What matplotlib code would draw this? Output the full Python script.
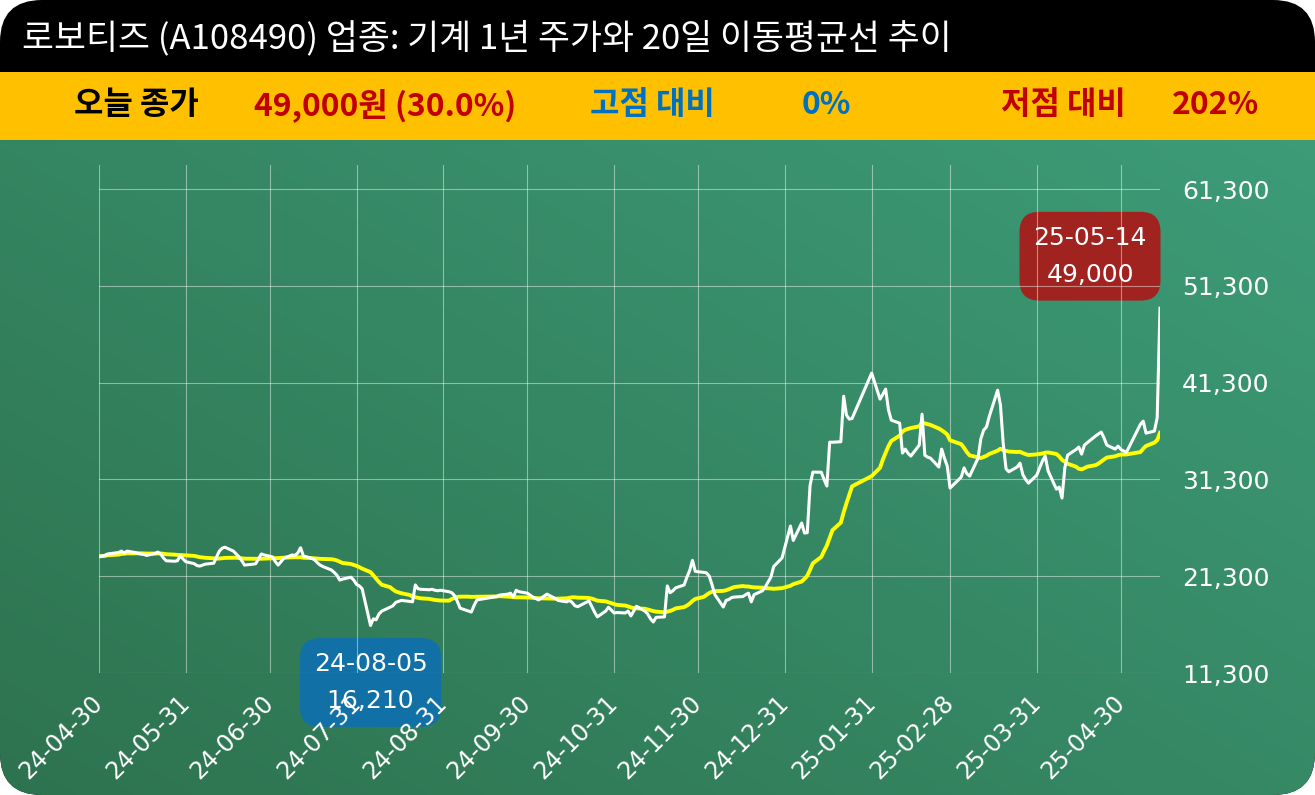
import numpy as np
import pandas as pd
import matplotlib.pyplot as plt
from matplotlib.patches import FancyBboxPatch, Rectangle

plt.rcParams['font.family'] = ['Noto Sans CJK KR', 'DejaVu Sans']

# KRX market holidays in the period
krx_holidays = [
    '2024-05-01', '2024-05-06', '2024-05-15', '2024-06-06', '2024-08-15',
    '2024-09-16', '2024-09-17', '2024-09-18', '2024-10-01', '2024-10-03', '2024-10-09',
    '2024-12-25', '2024-12-31', '2025-01-01', '2025-01-27', '2025-01-28', '2025-01-29',
    '2025-01-30', '2025-03-03', '2025-05-01', '2025-05-05', '2025-05-06',
]

# daily close, 2024-04-30 .. 2025-05-14 (trading days)
close = [
    23350,
    # 2024-05
    23450, 23600, 23750, 23900, 23700, 23900, 23750, 23650, 23550, 23450, 23650, 23800,
    23600, 23200, 22900, 22850, 22900, 23400, 23100, 22800,
    # 2024-06
    22600, 22400, 22350, 22550, 22650, 23300, 23900, 24200, 24300, 23900, 23600, 23300,
    22900, 22450, 22550, 22600, 23100, 23600, 23500,
    # 2024-07
    23300, 22800, 22450, 22800, 23150, 23500, 23450, 23700, 24250, 23400, 23150, 23000,
    22700, 22450, 22300, 21950, 21700, 21400, 20900, 21000, 21200, 20900, 20450,
    # 2024-08
    20300, 20000, 16210, 16900, 16800, 17400, 17700, 18100, 18250, 18600, 18800, 18700,
    18650, 20400, 20000, 19950, 19900, 19950, 19850, 19800, 19850,
    # 2024-09
    19700, 19600, 19300, 18700, 18000, 17700, 17600, 18300, 18850, 18900, 19200, 19350,
    19450, 19550, 19150, 19850, 19700, 19550,
    # 2024-10
    19150, 18850, 19450, 19300, 19000, 18800, 18650, 18800, 18600, 18250, 18150, 18600,
    18750, 18200, 17600, 17100, 17700, 18100, 17800, 17500,
    # 2024-11
    17550, 17500, 17700, 17200, 17700, 18200, 17700, 17400, 16900, 16570, 17050, 17100,
    20300, 19600, 19800, 20100, 20400, 21200, 21900, 22950, 21800,
    # 2024-12
    21700, 21650, 21300, 20400, 19400, 18120, 18800, 18900, 19100, 19150, 19200, 19400,
    19550, 18650, 19400, 19800, 20200, 21200, 22300, 23200,
    # 2025-01
    26490, 25000, 26800, 25760, 25800, 30700, 32060, 32050, 31300, 30620, 35160, 35150,
    35200, 39910, 37950, 37540, 37600, 42290,
    # 2025-02
    39600, 40100, 40640, 38500, 37430, 37120, 34030, 34440, 34000, 33720, 34850, 38050,
    33800, 33610, 33510, 32580, 34440, 33500, 32680, 30410,
    # 2025-03
    31550, 32500, 31900, 31650, 33500, 35500, 36400, 36710, 37800, 40530, 39000, 35000,
    32400, 32100, 32600, 32990, 31800, 31300, 30920, 31750,
    # 2025-04
    32500, 33200, 33720, 32200, 30300, 30510, 29380, 32500, 33820, 34400, 34650, 33920,
    34850, 35100, 35800, 36000, 36200, 35600, 34850, 34440, 34750, 34400,
    # 2025-05
    34100, 37000, 37330, 36090, 36300, 37700, 49000,
]
dates = pd.bdate_range('2024-04-30', periods=len(close), freq='C', holidays=krx_holidays)
ma20 = pd.Series(close).rolling(20, min_periods=1).mean()

tick_dates = pd.to_datetime([
    '2024-04-30', '2024-05-31', '2024-06-30', '2024-07-31', '2024-08-31', '2024-09-30',
    '2024-10-31', '2024-11-30', '2024-12-31', '2025-01-31', '2025-02-28', '2025-03-31',
    '2025-04-30',
])
y_ticks = [11300, 21300, 31300, 41300, 51300, 61300]

title = '로보티즈 (A108490) 업종: 기계 1년 주가와 20일 이동평균선 추이'

last = close[-1]
chg = (close[-1] / close[-2] - 1) * 100
from_high = (last / max(close) - 1) * 100
from_low = (last / min(close) - 1) * 100

W, H = 1315, 795
fig = plt.figure(figsize=(W / 100, H / 100), dpi=100)
fig.patch.set_facecolor('white')

# background: rounded card, header bars, green gradient
bg = fig.add_axes([0, 0, 1, 1], zorder=0)
bg.set_xlim(0, W)
bg.set_ylim(H, 0)
bg.axis('off')

frame = FancyBboxPatch((0, 0), W, H, boxstyle='round,pad=0,rounding_size=42',
                       fc='black', ec='none', zorder=0)
bg.add_patch(frame)

xs = np.linspace(0, 1, 300)
ys = np.linspace(1, 0, 150)
gx, gy = np.meshgrid(xs, ys)
t = 0.55 * gx + 0.45 * gy
c0 = np.array([0.18, 0.45, 0.31])
c1 = np.array([0.24, 0.61, 0.47])
grad = c0 + (c1 - c0) * t[..., None]
im = bg.imshow(grad, extent=(0, W, H, 140), aspect='auto', interpolation='bilinear', zorder=1)
im.set_clip_path(frame)
bg.set_xlim(0, W)
bg.set_ylim(H, 0)

bg.add_patch(Rectangle((0, 72), W, 68, fc='#FFC000', ec='none', zorder=2))

bg.text(22, 38, title, color='white', fontsize=25, ha='left', va='center', zorder=4)

bar_y = 105
bar_kw = dict(fontsize=23, fontweight='bold', ha='center', va='center', zorder=4)
bg.text(136, bar_y, '오늘 종가', color='black', **bar_kw)
bg.text(385, bar_y, f'{last:,}원 ({chg:.1f}%)', color='#C00000', **bar_kw)
bg.text(652, bar_y, '고점 대비', color='#0070C0', **bar_kw)
bg.text(826, bar_y, f'{from_high:.0f}%', color='#0070C0', **bar_kw)
bg.text(1063, bar_y, '저점 대비', color='#C00000', **bar_kw)
bg.text(1216, bar_y, f'{from_low:.0f}%', color='#C00000', **bar_kw)

# main chart
ax = fig.add_axes([99 / W, 1 - 673 / H, (1160 - 99) / W, (673 - 165) / H], zorder=1)
ax.set_facecolor('none')
for s in ax.spines.values():
    s.set_visible(False)

ax.plot(dates, ma20, color='#FFFF00', lw=2.8, zorder=3)
ax.plot(dates, close, color='white', lw=2.2, zorder=4)

ax.set_xlim(dates[0], dates[-1])
ax.set_ylim(11300, 63800)
ax.set_xticks(tick_dates)
ax.set_xticklabels([d.strftime('%y-%m-%d') for d in tick_dates], rotation=45, ha='right',
                   va='center', rotation_mode='anchor', family='DejaVu Sans')
ax.set_yticks(y_ticks)
ax.set_yticklabels([f'{v:,}' for v in y_ticks], family='DejaVu Sans')
ax.yaxis.tick_right()
ax.tick_params(axis='x', length=0, pad=19, labelcolor='white', labelsize=17)
ax.tick_params(axis='y', length=0, pad=16, labelcolor='white', labelsize=18)
ax.grid(True, color='white', alpha=0.45, lw=0.8)

box_kw = dict(textcoords='offset pixels', ha='center', va='center', color='white', fontsize=18,
              family='DejaVu Sans', linespacing=1.7, annotation_clip=False, zorder=1)
i_min = int(np.argmin(close))
ax.annotate(f'{dates[i_min]:%y-%m-%d}\n{close[i_min]:,}', xy=(dates[i_min], close[i_min]),
            xytext=(0, -57),
            bbox=dict(boxstyle='round,pad=0.55,rounding_size=0.8', fc='#1170A6', ec='none'),
            **box_kw)
ax.annotate(f'{dates[-1]:%y-%m-%d}\n{last:,}', xy=(dates[-1], last),
            xytext=(-70, 52),
            bbox=dict(boxstyle='round,pad=0.55,rounding_size=0.8', fc='#A0231F', ec='none'),
            **box_kw)

fig.savefig('out.png', dpi=100)
